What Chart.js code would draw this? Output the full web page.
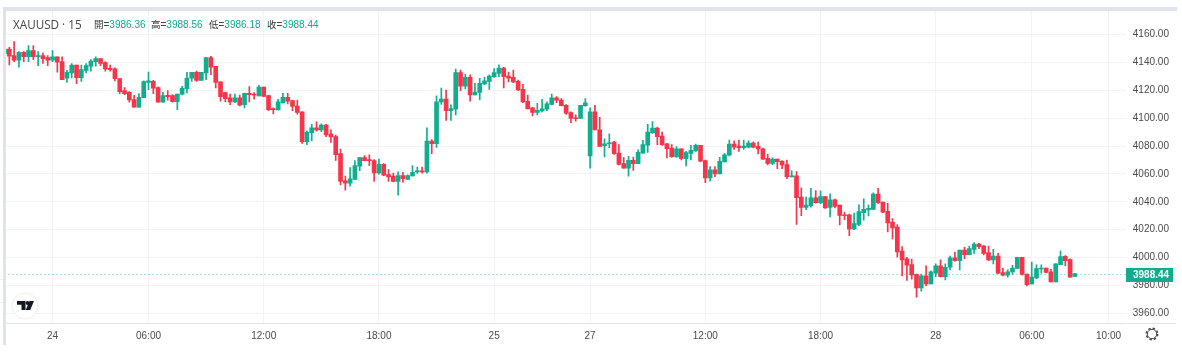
<!DOCTYPE html>
<html>
<head>
<meta charset="utf-8">
<title>XAUUSD 15</title>
<script src="https://cdn.jsdelivr.net/npm/chart.js@4"></script>
<style>
  html, body { margin: 0; padding: 0; background: #fff; overflow: hidden; }
  #wrap { position: relative; width: 1182px; height: 352px; }
  canvas { position: absolute; left: 0; top: 0; }
  .bar { position: absolute; background: #e0e3eb; }
  #head { position: absolute; left: 13px; top: 15px; height: 18px; line-height: 18px; white-space: nowrap;
          font-family: "Liberation Sans", sans-serif; color: #444; }
  #title { position: absolute; left: 0; top: 0; font: 11.7px "Open Sans", sans-serif; line-height: 18px; }
  .ohlc { position: absolute; top: 0; font-size: 10px; }
  .ohlc span { font-family: "Noto Sans CJK TC", sans-serif; font-size: 9.5px; color: #333; }
  .ohlc b { font-weight: normal; color: #12a98c; }
  svg { position: absolute; }
</style>
</head>
<body>
<div id="wrap">
  <canvas id="chart" width="1182" height="352"></canvas>
  <div class="bar" style="left:3px;top:7px;width:1174px;height:3.5px"></div>
  <div class="bar" style="left:3px;top:7px;width:3px;height:338px"></div>
  <div style="position:absolute;left:0;top:279px;width:3px;height:22px;border-top:1px solid #eee;border-bottom:1px solid #eee"></div>
  <div id="head">
    <div id="title">XAUUSD · 15</div>
    <div class="ohlc" style="left:81px"><span>開</span>=<b>3986.36</b></div>
    <div class="ohlc" style="left:138px"><span>高</span>=<b>3988.56</b></div>
    <div class="ohlc" style="left:196px"><span>低</span>=<b>3986.18</b></div>
    <div class="ohlc" style="left:254px"><span>收</span>=<b>3988.44</b></div>
  </div>
  <svg style="left:10px;top:291px" width="30" height="30" viewBox="10 291 30 30">
    <circle cx="25" cy="306" r="13" fill="#fff" stroke="#eceef2"/>
    <path d="M17 301h8.5v9h-4v-5.2h-4.500z" fill="#131722"/>
    <circle cx="27.500" cy="303" r="1.900" fill="#131722"/>
    <path d="M34 301l-3.800 9h-4.500l3.800-9z" fill="#131722"/>
  </svg>
  <svg style="left:1144px;top:326px" width="16" height="16" viewBox="0 0 16 16">
    <circle cx="8" cy="8" r="4.700" fill="none" stroke="#444" stroke-width="1"/>
    <circle cx="8" cy="8" r="5.700" fill="none" stroke="#444" stroke-width="1.500" stroke-dasharray="2.400 2.080"/>
  </svg>
</div>
<script>
// 15분봉 시가/고가/저가/종가
const opens = [
  4146.4,4149.7,4144.9,4141.6,4147.3,4144.2,4148.5,4144.2,4144.9,4143.5,
  4141.6,4144.0,4140.6,4128.7,4132.5,4138.2,4129.2,4134.4,4137.3,4140.6,
  4142.8,4139.9,4135.9,4135.4,4128.4,4119.8,4118.6,4113.4,4107.9,4114.8,
  4125.8,4126.5,4122.0,4111.5,4116.5,4116.2,4111.9,4117.2,4121.3,4128.7,
  4133.0,4127.2,4132.5,4143.5,4137.3,4126.2,4118.4,4114.6,4111.7,4114.6,
  4109.8,4117.9,4117.4,4116.0,4122.4,4116.2,4106.9,4106.0,4111.0,4115.0,
  4112.7,4108.8,4104.6,4083.1,4089.6,4093.1,4091.7,4095.0,4088.6,4086.9,
  4074.6,4055.0,4053.4,4056.0,4065.5,4071.7,4070.3,4069.6,4060.7,4066.9,
  4059.5,4058.4,4054.6,4058.8,4056.0,4058.6,4061.5,4062.2,4061.5,4083.6,
  4081.7,4111.7,4113.8,4105.5,4106.5,4132.7,4123.1,4129.3,4116.7,4118.6,
  4124.6,4126.5,4129.8,4132.2,4136.0,4130.3,4129.3,4126.5,4120.7,4112.2,
  4107.4,4104.1,4105.3,4106.5,4110.0,4114.6,4113.1,4109.3,4104.1,4100.3,
  4099.8,4109.1,4072.9,4104.6,4091.7,4080.3,4081.7,4082.9,4075.0,4067.4,
  4064.1,4069.8,4067.4,4075.0,4080.7,4089.6,4092.9,4087.2,4081.7,4078.6,
  4072.4,4078.1,4071.0,4074.8,4076.5,4080.5,4069.6,4057.2,4062.9,4060.0,
  4068.6,4073.4,4081.5,4080.0,4078.8,4079.3,4082.2,4079.8,4078.1,4071.2,
  4067.6,4070.7,4069.1,4066.7,4057.9,4058.6,4043.4,4036.0,4037.2,4042.9,
  4039.3,4043.8,4036.0,4041.5,4037.6,4030.7,4030.7,4020.5,4023.8,4032.2,
  4034.1,4034.6,4045.5,4039.8,4033.1,4025.5,4021.9,4004.7,3999.0,3994.9,
  3988.0,3978.2,3986.8,3981.1,3988.7,3994.0,3986.3,3993.0,3999.7,3997.8,
  4005.4,4002.1,4005.9,4009.7,4008.3,4003.5,3998.3,4001.1,3989.2,3987.3,
  3989.7,3992.1,4000.2,3988.2,3981.1,3985.4,3991.8,3992.5,3989.7,3982.5,
  3994.9,4000.9,3998.5,3986.36
];
const highs = [
  4149.7,4150.9,4155.0,4147.8,4147.8,4152.1,4152.1,4147.8,4146.9,4144.9,
  4148.5,4144.0,4144.0,4134.4,4139.2,4138.2,4138.2,4139.2,4142.1,4144.0,
  4142.8,4140.6,4138.2,4136.1,4128.4,4122.0,4119.1,4116.5,4117.7,4126.8,
  4133.2,4127.2,4122.5,4118.6,4119.8,4117.0,4117.4,4122.9,4133.0,4133.0,
  4133.9,4133.0,4143.5,4144.5,4137.3,4126.2,4118.8,4117.4,4117.4,4116.7,
  4118.1,4122.7,4118.4,4123.6,4122.4,4116.7,4107.4,4113.6,4117.9,4117.9,
  4113.1,4113.1,4104.6,4091.0,4095.7,4097.4,4096.0,4095.7,4091.7,4087.9,
  4077.9,4058.4,4064.6,4069.6,4071.7,4073.1,4073.8,4070.3,4070.7,4067.4,
  4063.1,4060.7,4061.5,4061.2,4059.3,4066.0,4065.0,4065.0,4093.1,4084.6,
  4116.0,4121.7,4120.3,4109.6,4135.3,4134.6,4131.7,4131.2,4125.0,4128.6,
  4129.3,4131.2,4135.7,4138.4,4136.5,4133.1,4134.6,4127.4,4124.3,4116.7,
  4107.9,4110.7,4113.6,4111.7,4117.4,4115.5,4114.1,4109.8,4104.6,4102.4,
  4109.3,4114.1,4107.4,4109.3,4100.7,4085.3,4088.8,4083.4,4081.0,4071.7,
  4072.6,4072.2,4077.4,4084.1,4095.7,4097.6,4093.4,4090.0,4081.9,4081.0,
  4079.6,4078.1,4076.2,4080.5,4081.5,4080.5,4070.0,4065.3,4065.3,4071.9,
  4074.8,4084.3,4083.8,4084.3,4084.3,4083.8,4083.1,4082.9,4078.6,4074.3,
  4071.5,4070.7,4069.6,4070.0,4062.2,4061.7,4050.0,4043.4,4049.6,4048.1,
  4047.9,4043.8,4045.7,4041.9,4037.6,4032.6,4031.2,4031.9,4037.9,4042.2,
  4037.9,4046.5,4049.6,4039.8,4038.9,4027.9,4023.6,4007.8,4000.2,3998.8,
  3988.2,3988.2,3994.0,3990.4,3995.4,3998.3,3995.4,4001.1,4004.0,4005.4,
  4007.3,4008.3,4010.7,4010.2,4008.8,4008.3,4005.9,4003.0,3992.3,3991.1,
  3994.4,4000.2,4000.2,3988.2,3996.8,3994.7,3994.7,3992.5,3991.6,3995.4,
  4004.7,4001.4,3999.0,3988.56
];
const lows = [
  4146.4,4138.2,4140.6,4136.6,4140.6,4140.6,4142.1,4137.8,4139.4,4137.8,
  4140.6,4133.0,4127.7,4125.8,4128.9,4124.9,4126.5,4132.5,4133.7,4137.3,
  4137.8,4133.7,4133.7,4126.8,4117.7,4117.0,4111.5,4107.9,4107.9,4114.8,
  4120.5,4117.7,4111.5,4111.5,4112.9,4111.5,4106.2,4116.7,4118.1,4126.5,
  4126.5,4127.2,4127.7,4131.3,4121.7,4112.2,4111.7,4109.8,4111.2,4108.8,
  4107.4,4111.7,4113.6,4116.0,4115.5,4105.5,4103.1,4106.0,4111.0,4110.3,
  4105.5,4102.9,4081.9,4081.0,4083.8,4090.7,4090.3,4086.7,4082.7,4069.8,
  4052.2,4048.4,4051.2,4056.0,4062.4,4069.3,4066.0,4054.6,4059.8,4058.8,
  4054.6,4054.3,4044.8,4054.1,4056.0,4058.4,4060.3,4060.5,4060.5,4074.6,
  4079.1,4110.0,4098.4,4098.4,4102.4,4119.8,4121.0,4112.2,4116.7,4113.1,
  4124.1,4120.7,4129.3,4129.8,4121.7,4126.0,4125.5,4119.8,4111.2,4106.5,
  4101.7,4102.4,4104.6,4105.5,4109.6,4111.2,4108.8,4102.7,4096.9,4097.9,
  4099.8,4108.4,4064.1,4091.7,4079.8,4072.2,4078.8,4074.1,4066.5,4064.1,
  4058.4,4062.6,4067.4,4075.0,4075.5,4089.1,4081.0,4080.5,4071.5,4071.9,
  4071.9,4070.0,4065.7,4070.0,4076.2,4068.8,4053.8,4054.8,4058.1,4060.0,
  4068.6,4072.9,4077.6,4076.2,4077.6,4078.6,4078.6,4074.3,4070.5,4066.5,
  4066.7,4063.8,4063.8,4056.7,4057.9,4023.8,4030.0,4034.3,4036.2,4039.1,
  4038.6,4035.3,4029.1,4035.7,4023.4,4027.2,4015.7,4020.0,4022.9,4026.9,
  4029.8,4034.6,4038.9,4032.2,4018.3,4013.3,4000.2,3986.8,3983.5,3984.4,
  3971.5,3975.8,3979.7,3981.1,3986.3,3986.1,3983.9,3991.1,3997.3,3991.1,
  3999.2,4001.9,4003.0,4006.4,4001.9,3997.8,3995.4,3988.2,3986.8,3985.9,
  3987.8,3992.1,3987.3,3979.7,3980.8,3984.9,3988.7,3989.0,3982.5,3982.5,
  3994.9,3994.0,3985.9,3986.18
];
const closes = [
  4149.7,4144.5,4141.6,4147.3,4144.2,4148.5,4144.2,4144.9,4142.8,4141.6,
  4144.0,4140.2,4127.7,4133.0,4138.2,4129.2,4134.9,4137.8,4141.1,4142.8,
  4139.4,4135.4,4134.9,4128.4,4119.1,4117.7,4113.1,4107.9,4115.0,4126.3,
  4126.8,4121.5,4111.5,4116.2,4115.5,4111.9,4117.4,4121.5,4128.9,4133.0,
  4127.2,4133.0,4143.5,4136.6,4125.8,4115.5,4114.1,4111.7,4114.6,4109.3,
  4117.9,4116.9,4116.5,4122.4,4115.7,4106.2,4106.2,4111.7,4115.0,4112.2,
  4108.4,4104.1,4083.1,4089.8,4093.1,4091.7,4095.0,4088.1,4086.5,4073.8,
  4054.6,4053.4,4056.5,4066.0,4071.7,4069.6,4069.6,4060.7,4066.9,4059.1,
  4057.9,4054.6,4058.8,4056.7,4058.8,4061.2,4062.2,4061.5,4083.6,4081.7,
  4111.7,4113.8,4105.5,4106.9,4132.7,4123.1,4129.3,4116.7,4118.8,4125.0,
  4126.9,4130.3,4132.7,4136.0,4129.8,4128.8,4126.0,4120.3,4111.7,4106.9,
  4104.1,4105.7,4106.7,4110.3,4114.6,4112.9,4109.1,4103.6,4099.8,4099.6,
  4109.3,4111.0,4104.6,4091.7,4079.8,4081.7,4082.4,4074.6,4066.9,4064.1,
  4069.8,4067.4,4075.5,4081.0,4090.0,4092.9,4086.7,4081.0,4078.1,4072.4,
  4078.1,4071.2,4075.3,4076.9,4080.5,4069.1,4057.2,4062.9,4060.0,4069.1,
  4073.8,4081.5,4079.3,4078.8,4080.0,4082.2,4079.3,4077.9,4070.7,4067.6,
  4070.7,4068.8,4066.5,4058.1,4058.6,4042.9,4036.0,4037.6,4042.9,4039.3,
  4043.8,4035.7,4041.5,4036.7,4030.3,4030.0,4020.5,4024.3,4032.9,4034.6,
  4035.3,4045.5,4039.3,4032.6,4024.8,4021.2,4004.0,3998.3,3994.5,3987.5,
  3978.2,3986.8,3981.1,3989.7,3994.0,3986.3,3993.0,3999.7,3997.8,4005.4,
  4002.1,4006.4,4009.7,4007.8,4003.0,3998.3,4001.1,3988.7,3987.3,3989.7,
  3992.5,4000.2,3987.8,3980.6,3985.9,3992.1,3992.5,3989.4,3982.5,3995.4,
  4000.7,3997.8,3985.9,3988.44
];

// 축 눈금
const priceTicks = [3960, 3980, 4000, 4020, 4040, 4060, 4080, 4100, 4120, 4140, 4160];
const timeTickBars = [10, 30, 54, 78, 102, 122, 146, 170, 194, 214, 230];
const timeTickLabels = ['24', '06:00', '12:00', '18:00', '25', '27', '12:00', '18:00', '28', '06:00', '10:00'];

const UP = '#0fae8f';
const DOWN = '#f7344a';
const lastClose = closes[closes.length - 1];
const colors = closes.map((c, i) => (c >= opens[i] ? UP : DOWN));

// 현재가 점선과 가격표, 아래쪽 테두리
const lastPricePlugin = {
    id: 'lastPrice',
    afterDatasetsDraw(chart) {
        const { ctx, chartArea, scales } = chart;
        const y = Math.round(scales.y.getPixelForValue(lastClose)) + 0.5;
        ctx.save();
        ctx.strokeStyle = 'rgba(15,174,143,0.7)';
        ctx.lineWidth = 1;
        ctx.setLineDash([1, 3]);
        ctx.beginPath();
        ctx.moveTo(chartArea.left, y);
        ctx.lineTo(chartArea.right, y);
        ctx.stroke();
        ctx.setLineDash([]);

        ctx.strokeStyle = '#e0e3eb';
        ctx.beginPath();
        ctx.moveTo(chartArea.left, chartArea.bottom + 0.5);
        ctx.lineTo(chartArea.right, chartArea.bottom + 0.5);
        ctx.moveTo(chartArea.right + 1, chartArea.bottom + 0.5);
        ctx.lineTo(1176, chartArea.bottom + 0.5);
        ctx.stroke();

        ctx.fillStyle = '#12ab8d';
        ctx.fillRect(1126, y - 6.5, 47, 14);
        ctx.fillStyle = '#fff';
        ctx.font = 'bold 10px "Liberation Sans", sans-serif';
        ctx.textAlign = 'left';
        ctx.textBaseline = 'middle';
        ctx.fillText(lastClose.toFixed(2), 1133, y + 0.5);
        ctx.restore();
    }
};

new Chart(document.getElementById('chart'), {
    type: 'bar',
    data: {
        datasets: [
            {
                label: 'body',
                data: opens.map((o, i) => ({ x: i, y: [o, closes[i]] })),
                backgroundColor: colors,
                barThickness: 4,
                grouped: false,
                order: 1
            },
            {
                label: 'wick',
                data: lows.map((l, i) => ({ x: i, y: [l, highs[i]] })),
                backgroundColor: colors,
                barThickness: 1,
                grouped: false,
                order: 2
            }
        ]
    },
    options: {
        responsive: false,
        animation: false,
        events: [],
        layout: { autoPadding: false, padding: { left: 4.53, top: 10, right: 0, bottom: 0 } },
        plugins: { legend: { display: false }, tooltip: { enabled: false } },
        scales: {
            x: {
                type: 'linear',
                offset: false,
                min: 0,
                max: 233.6,
                afterFit(scale) { scale.height = 29; scale.paddingLeft = 0; scale.paddingRight = 0; },
                afterBuildTicks(scale) { scale.ticks = timeTickBars.map(v => ({ value: v })); },
                border: { display: false },
                grid: { color: '#f2f3f7', drawTicks: false, offset: false },
                ticks: {
                    autoSkip: false,
                    maxRotation: 0,
                    padding: 7,
                    color: '#4a4a4a',
                    font: { family: '"Liberation Sans", sans-serif', size: 10 },
                    callback(v) { return timeTickLabels[timeTickBars.indexOf(v)]; }
                }
            },
            y: {
                position: 'right',
                min: 3953,
                max: 4177.7,
                afterFit(scale) { scale.width = 56.2; scale.paddingTop = 0; scale.paddingBottom = 0; },
                afterBuildTicks(scale) { scale.ticks = priceTicks.map(v => ({ value: v })); },
                border: { display: false },
                grid: { color: '#f2f3f7', drawTicks: false },
                ticks: {
                    autoSkip: false,
                    padding: 7,
                    color: '#4a4a4a',
                    font: { family: '"Liberation Sans", sans-serif', size: 10 },
                    callback(v) { return v.toFixed(2); }
                }
            }
        }
    },
    plugins: [lastPricePlugin]
});
</script>
</body>
</html>
